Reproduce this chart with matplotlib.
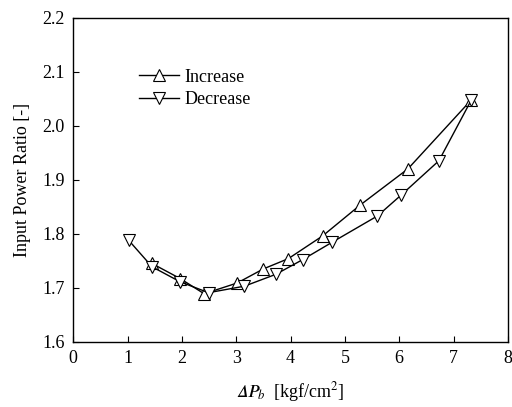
import numpy as np
import matplotlib
matplotlib.use("Agg")
import matplotlib.pyplot as plt

plt.rcParams['font.family'] = ['Liberation Serif', 'DejaVu Serif']
plt.rcParams['mathtext.fontset'] = 'stix'

# Increase
x_inc = [1.45, 1.97, 2.41, 3.02, 3.50, 3.96, 4.59, 5.28, 6.16, 7.33]
y_inc = [1.745, 1.717, 1.689, 1.709, 1.735, 1.754, 1.796, 1.853, 1.920, 2.048]

# Decrease
x_dec = [1.02, 1.45, 1.97, 2.49, 3.15, 3.73, 4.22, 4.76, 5.60, 6.04, 6.73, 7.33]
y_dec = [1.788, 1.739, 1.711, 1.691, 1.703, 1.725, 1.752, 1.784, 1.833, 1.872, 1.935, 2.048]

xticks = [0, 1, 2, 3, 4, 5, 6, 7, 8]
yticks = [1.6, 1.7, 1.8, 1.9, 2.0, 2.1, 2.2]

fig = plt.figure(figsize=(5.12, 4.07), dpi=100)
ax = fig.add_axes([0.143, 0.160, 0.849, 0.797])

ax.plot(x_inc, y_inc, color='black', lw=1.0, marker='^', ms=8,
        mfc='white', mec='black', mew=0.8, label='Increase')
ax.plot(x_dec, y_dec, color='black', lw=1.0, marker='v', ms=8,
        mfc='white', mec='black', mew=0.8, label='Decrease')

ax.set_xlim(0, 8)
ax.set_ylim(1.6, 2.2)
ax.set_xticks(xticks)
ax.set_yticks(yticks)
ax.set_yticklabels([f'{v:.1f}' for v in yticks])
ax.tick_params(direction='in', length=4, labelsize=13, pad=6)
for s in ax.spines.values():
    s.set_linewidth(1.0)

ax.set_xlabel('$\U0001D6E5\U0001D443_b$  [kgf/cm$^2$]', fontsize=13, labelpad=9)
ax.set_ylabel('Input Power Ratio [-]', fontsize=13, labelpad=8)

ax.legend(loc='upper left', bbox_to_anchor=(0.135, 0.865), frameon=False,
          fontsize=13, handlelength=2.2, handletextpad=0.3, labelspacing=0.3,
          borderaxespad=0)

fig.savefig('out.png', dpi=100)
